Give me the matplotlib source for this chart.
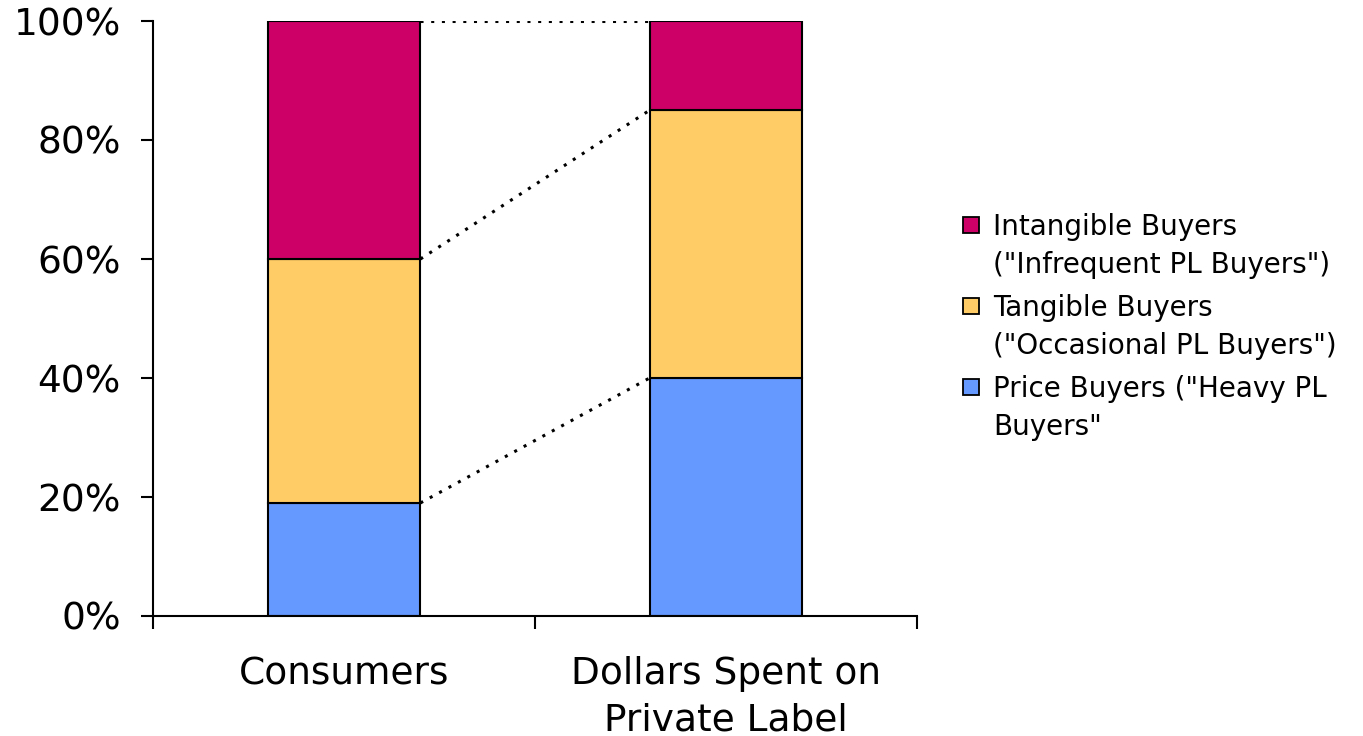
import numpy as np
import matplotlib
matplotlib.use("Agg")
from matplotlib import pyplot as plt
from matplotlib.patches import Rectangle

plt.rcParams['font.family'] = ['DejaVu Sans']

categories = ["Consumers", "Dollars Spent on\nPrivate Label"]
series_names = ["Price Buyers (\"Heavy PL\nBuyers\"",
                "Tangible Buyers\n(\"Occasional PL Buyers\")",
                "Intangible Buyers\n(\"Infrequent PL Buyers\")"]
price = [19, 40]
tangible = [41, 45]
intangible = [40, 15]
colors = ["#6699FF", "#FFCC66", "#CC0066"]
y_ticks = [0, 20, 40, 60, 80, 100]
y_tick_labels = ["0%", "20%", "40%", "60%", "80%", "100%"]

W, H = 1363, 736
fig = plt.figure(figsize=(W / 100, H / 100), dpi=100)
ax = fig.add_axes([153 / W, 1 - 616 / H, (917 - 153) / W, (616 - 21) / H])

x = np.arange(len(categories))
width = 0.4
bottom = np.zeros(len(categories))
for values, name, color in zip([price, tangible, intangible], series_names, colors):
    ax.bar(x, values, width, bottom=bottom, color=color, edgecolor="black",
           linewidth=1.5, label=name, zorder=2)
    bottom = bottom + np.array(values)

# dotted connectors between the stack boundaries
tops0 = np.cumsum([price[0], tangible[0], intangible[0]])
tops1 = np.cumsum([price[1], tangible[1], intangible[1]])
for a, b in zip(tops0, tops1):
    ax.plot([x[0] + width / 2, x[1] - width / 2], [a, b], color="black",
            linestyle=(0, (1, 2.5)), linewidth=2.2, zorder=1)

ax.set_xlim(-0.5, 1.5)
ax.set_ylim(0, 100)
ax.set_yticks(y_ticks)
ax.set_yticklabels(y_tick_labels, fontsize=27)
ax.set_xticks([-0.5, 0.5, 1.5])
ax.set_xticklabels(["", "", ""])
ax.set_xticks(x, minor=True)
ax.set_xticklabels(categories, minor=True, fontsize=27, linespacing=1.35)
ax.tick_params(axis="x", which="minor", length=0, pad=29)
ax.tick_params(axis="both", which="major", length=9, width=1.5, direction="out")
ax.tick_params(axis="y", pad=14)
for side in ["top", "right"]:
    ax.spines[side].set_visible(False)
for side in ["left", "bottom"]:
    ax.spines[side].set_linewidth(1.5)

# legend drawn by hand so the swatch sits on the first line of each label
baselines = [235, 316, 397]
for name, color, base in zip(series_names[::-1], colors[::-1], baselines):
    fig.patches.append(Rectangle((963 / W, 1 - (base - 2) / H), 16 / W, 16 / H,
                                 transform=fig.transFigure, facecolor=color,
                                 edgecolor="black", linewidth=1.3))
    for i, line in enumerate(name.split("\n")):
        fig.text(993 / W, 1 - (base + 38 * i) / H, line, fontsize=20,
                 ha="left", va="baseline")

fig.savefig("out.png", dpi=100)
